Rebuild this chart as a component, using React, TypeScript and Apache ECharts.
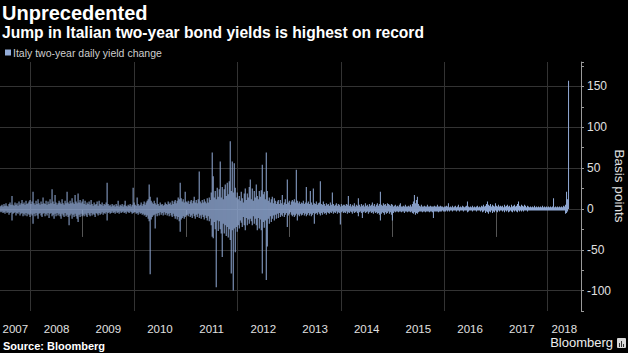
import React, { useEffect, useRef } from "react";
import * as echarts from "echarts";

// Weekly-ish envelope of Italy two-year daily yield changes (basis points),
// read off the reference: highest rise (hi) and deepest fall (lo) per sample.
// Samples are evenly spaced from 2007-05-29 to 2018-05-29, in blocks by year.
const hi2007 = [3, 4, 5, 3, 6, 4, 7, 4, 3, 6, 8, 5, 16, 5, 4, 8, 5, 7, 4, 9, 5, 7, 11, 6, 8, 5, 10, 6, 7, 9, 11];
const lo2007 = [-3, -4, -3, -5, -4, -6, -3, -5, -4, -7, -5, -4, -14, -6, -5, -4, -8, -5, -6, -4, -8, -6, -5, -9, -6, -8, -5, -9, -6, -7, -10];
const hi2008 = [6, 9, 21, 7, 5, 10, 6, 12, 7, 5, 9, 6, 14, 7, 6, 10, 5, 9, 6, 12, 7, 24, 9, 6, 17, 8, 5, 7, 10, 8, 6, 12, 7, 5, 10, 7, 21, 8, 6, 10, 7, 13, 8, 6, 17, 9, 7, 19, 8, 11, 7, 9];
const lo2008 = [-6, -8, -18, -6, -9, -5, -8, -12, -6, -5, -8, -10, -6, -5, -9, -6, -8, -5, -11, -6, -5, -9, -7, -12, -6, -9, -5, -8, -6, -9, -12, -6, -8, -10, -5, -9, -7, -10, -20, -8, -6, -12, -7, -10, -6, -9, -12, -16, -7, -10, -6, -9];
const hi2009 = [12, 6, 10, 5, 8, 6, 9, 5, 11, 6, 4, 8, 5, 6, 9, 4, 10, 6, 5, 8, 4, 6, 5, 8, 32, 6, 4, 5, 3, 6, 4, 5, 3, 6, 4, 10, 3, 5, 4, 6, 3, 5, 10, 4, 3, 5, 4, 6, 3, 5, 26, 8];
const lo2009 = [-7, -9, -6, -8, -10, -5, -7, -9, -5, -8, -6, -7, -10, -5, -6, -8, -5, -7, -6, -4, -7, -5, -6, -4, -14, -5, -4, -6, -5, -3, -5, -4, -6, -3, -5, -4, -6, -3, -5, -4, -3, -5, -4, -6, -3, -4, -5, -3, -4, -6, -5, -4];
const hi2010 = [5, 4, 14, 6, 4, 5, 8, 4, 6, 9, 5, 8, 10, 12, 30, 15, 10, 8, 6, 10, 7, 5, 14, 6, 4, 8, 5, 6, 4, 5, 8, 6, 5, 9, 6, 8, 5, 10, 6, 9, 11, 7, 10, 14, 12, 32, 13, 9, 12, 8, 21, 9];
const lo2010 = [-4, -6, -5, -7, -4, -6, -5, -7, -6, -8, -7, -10, -8, -12, -15, -80, -13, -10, -8, -7, -24, -6, -9, -5, -8, -4, -7, -5, -8, -4, -7, -5, -8, -6, -9, -5, -8, -10, -6, -9, -12, -9, -13, -10, -15, -28, -13, -11, -9, -12, -10, -8];
const hi2011 = [8, 10, 6, 9, 11, 7, 10, 15, 8, 11, 7, 12, 46, 9, 7, 11, 8, 12, 9, 7, 13, 8, 14, 11, 20, 69, 40, 14, 22, 12, 26, 15, 24, 58, 14, 27, 12, 24, 30, 16, 32, 18, 34, 83, 22, 58, 20, 56, 26, 14, 20, 12];
const lo2011 = [-7, -9, -6, -10, -8, -11, -6, -9, -12, -7, -10, -6, -11, -8, -12, -7, -10, -13, -8, -11, -14, -9, -15, -12, -20, -34, -36, -16, -25, -96, -14, -27, -15, -25, -30, -59, -18, -30, -20, -33, -22, -35, -25, -38, -79, -26, -100, -24, -53, -22, -28, -20];
const hi2012 = [16, 10, 21, 13, 8, 19, 25, 11, 19, 14, 27, 36, 12, 25, 10, 22, 14, 30, 16, 12, 22, 15, 23, 54, 18, 21, 12, 69, 22, 10, 14, 8, 12, 15, 7, 13, 10, 6, 9, 11, 6, 11, 7, 17, 5, 8, 12, 6, 36, 8, 10, 5, 9];
const lo2012 = [-24, -14, -17, -22, -10, -20, -26, -11, -20, -13, -18, -12, -15, -20, -9, -18, -12, -20, -26, -11, -24, -13, -26, -79, -16, -23, -14, -87, -46, -12, -18, -9, -16, -12, -8, -14, -7, -12, -6, -11, -5, -10, -7, -9, -5, -10, -7, -5, -22, -8, -6, -4, -7];
const hi2013 = [11, 9, 12, 8, 48, 10, 7, 9, 6, 8, 7, 10, 6, 8, 27, 7, 9, 6, 22, 8, 5, 25, 7, 6, 9, 5, 7, 8, 34, 6, 5, 9, 6, 4, 7, 5, 6, 4, 8, 5, 20, 6, 4, 5, 7, 4, 6, 5, 3, 6, 4, 5];
const lo2013 = [-9, -7, -10, -8, -6, -14, -7, -9, -6, -8, -7, -5, -8, -6, -9, -7, -5, -8, -6, -9, -7, -5, -18, -6, -5, -7, -4, -6, -8, -5, -7, -4, -6, -5, -7, -4, -5, -6, -4, -5, -3, -6, -4, -5, -3, -6, -4, -5, -19, -4, -3, -5];
const hi2014 = [5, 4, 6, 5, 16, 4, 6, 3, 5, 4, 7, 3, 5, 4, 13, 5, 3, 6, 4, 5, 3, 7, 4, 5, 3, 6, 4, 5, 8, 4, 6, 3, 5, 7, 4, 6, 21, 5, 4, 7, 5, 6, 4, 7, 6, 5, 4, 6, 5, 3, 4, 5];
const lo2014 = [-4, -5, -3, -6, -4, -5, -3, -4, -6, -3, -5, -4, -3, -5, -9, -4, -3, -5, -11, -4, -3, -5, -4, -3, -6, -4, -3, -5, -4, -6, -3, -5, -4, -6, -5, -7, -14, -6, -4, -5, -7, -4, -6, -5, -3, -6, -4, -7, -14, -5, -3, -4];
const hi2015 = [3, 4, 3, 5, 7, 3, 3, 4, 3, 5, 3, 3, 4, 3, 5, 3, 6, 9, 17, 7, 11, 15, 6, 4, 3, 5, 3, 3, 4, 3, 3, 5, 3, 3, 4, 3, 3, 3, 4, 3, 3, 5, 3, 3, 4, 3, 3, 2, 3, 3, 4, 3];
const lo2015 = [-3, -3, -4, -3, -3, -4, -3, -3, -5, -3, -3, -4, -3, -3, -4, -3, -5, -6, -4, -7, -5, -6, -4, -3, -3, -3, -4, -3, -3, -4, -3, -3, -3, -4, -3, -3, -4, -11, -3, -3, -3, -3, -4, -3, -3, -3, -2, -3, -3, -3, -2, -3];
const hi2016 = [7, 2, 3, 2, 4, 2, 3, 4, 2, 3, 5, 2, 3, 2, 4, 3, 2, 3, 4, 9, 3, 2, 3, 2, 4, 2, 3, 2, 3, 4, 2, 3, 2, 4, 3, 5, 3, 4, 6, 9, 5, 4, 6, 3, 5, 4, 3, 7, 4, 3, 5, 3, 4];
const lo2016 = [-2, -3, -2, -2, -3, -2, -2, -2, -3, -2, -2, -3, -2, -2, -2, -3, -2, -2, -2, -4, -3, -2, -2, -2, -3, -2, -2, -2, -3, -2, -2, -2, -3, -2, -4, -3, -2, -5, -3, -4, -6, -3, -4, -2, -5, -3, -4, -2, -3, -4, -2, -3, -2];
const hi2017 = [3, 4, 2, 5, 3, 4, 5, 3, 4, 2, 5, 3, 4, 5, 3, 4, 6, 9, 4, 3, 5, 4, 3, 5, 4, 2, 4, 3, 2, 3, 2, 3, 2, 4, 2, 3, 2, 3, 2, 3, 2, 4, 2, 3, 2, 3, 2, 3, 2, 3, 2, 3];
const lo2017 = [-2, -3, -2, -4, -2, -3, -2, -4, -3, -2, -3, -4, -2, -3, -2, -3, -4, -2, -3, -2, -3, -2, -3, -2, -2, -2, -3, -2, -2, -2, -2, -2, -2, -2, -2, -2, -2, -2, -2, -2, -2, -2, -2, -2, -2, -2, -2, -2, -2, -2, -2, -2];
const hi2018 = [13, 2, 3, 2, 3, 2, 3, 2, 3, 2, 4, 3, 5, 21, 12, 157];
const lo2018 = [-2, -2, -2, -2, -2, -2, -2, -2, -2, -2, -2, -2, -6, -5, -3, 0];

const YEARS = [2007, 2008, 2009, 2010, 2011, 2012, 2013, 2014, 2015, 2016, 2017, 2018];
const GRID_YEARS = [2008, 2010, 2012, 2014, 2016, 2018];
const Y_GRID = [-100, -50, 0, 50, 100, 150];

const NAME = "Italy two-year daily yield change";
const Y_NAME = "Basis points";
const START = Date.UTC(2007, 4, 29);
const END = Date.UTC(2018, 4, 29);
const X_MIN = START;
const X_MAX = Date.UTC(2018, 7, 25);

const FONT = "'Liberation Sans', Arial, sans-serif";
const BAR = "#93acd8";

export default function App() {
  const ref = useRef<HTMLDivElement>(null);

  useEffect(() => {
    if (!ref.current) return;
    const chart = echarts.init(ref.current, undefined, { renderer: "svg" });

    const hi = [...hi2007, ...hi2008, ...hi2009, ...hi2010, ...hi2011, ...hi2012, ...hi2013, ...hi2014, ...hi2015, ...hi2016, ...hi2017, ...hi2018];
    const lo = [...lo2007, ...lo2008, ...lo2009, ...lo2010, ...lo2011, ...lo2012, ...lo2013, ...lo2014, ...lo2015, ...lo2016, ...lo2017, ...lo2018];
    const step = (END - START) / (hi.length - 1);
    const hiData = hi.map((v, i) => [START + i * step, v]);
    const loData = lo.map((v, i) => [START + i * step, v]);

    const boundaries = YEARS.slice(1).map((y) => Date.UTC(y, 0, 1));
    const labelPos = YEARS.map((y) => {
      const a = Math.max(Date.UTC(y, 0, 1), X_MIN);
      const b = Math.min(Date.UTC(y + 1, 0, 1), X_MAX);
      return (a + b) / 2;
    });

    chart.setOption({
      animation: false,
      backgroundColor: "#000",
      textStyle: { fontFamily: FONT },
      title: {
        left: 2,
        top: 3,
        padding: 0,
        itemGap: 1,
        text: "Unprecedented",
        subtext: "Jump in Italian two-year bond yields is highest on record",
        textStyle: { color: "#fff", fontSize: 20, fontWeight: "bold", fontFamily: FONT },
        subtextStyle: { color: "#fff", fontSize: 15.6, fontWeight: "bold", fontFamily: FONT },
      },
      legend: {
        data: [NAME],
        left: 5,
        top: 47,
        padding: 0,
        icon: "rect",
        itemWidth: 6,
        itemHeight: 6,
        selectedMode: false,
        textStyle: { color: "#cfcfcf", fontSize: 10.5, fontFamily: FONT, padding: [0, 0, 0, -3] },
      },
      grid: { left: 0, right: 47, top: 62, bottom: 42, containLabel: false, outerBoundsMode: "none" },
      xAxis: {
        type: "value",
        min: X_MIN,
        max: X_MAX,
        axisLine: { show: true, lineStyle: { color: "#9a9a9a", width: 1 } },
        axisTick: { show: true, customValues: boundaries, length: 28, lineStyle: { color: "#555" } },
        axisLabel: {
          customValues: labelPos,
          color: "#e0e0e0",
          fontSize: 11.5,
          margin: 12,
          formatter: (v: number) => String(new Date(v).getUTCFullYear()),
        },
        splitLine: { show: false },
      },
      yAxis: {
        type: "value",
        position: "right",
        min: -125,
        max: 180,
        interval: 25,
        splitLine: { show: false },
        axisLine: { show: true, lineStyle: { color: "#9a9a9a" } },
        axisTick: { show: true, length: 3, lineStyle: { color: "#9a9a9a" } },
        axisLabel: {
          color: "#e0e0e0",
          fontSize: 12,
          margin: 6,
          formatter: (v: number) => (v % 50 === 0 ? String(v) : ""),
        },
      },
      series: [
        {
          type: "line",
          data: [],
          silent: true,
          markLine: {
            silent: true,
            z: 1,
            symbol: "none",
            label: { show: false },
            lineStyle: { color: "#333", type: "solid", width: 1 },
            data: [
              ...GRID_YEARS.map((y) => ({ xAxis: Date.UTC(y, 0, 1) })),
              ...Y_GRID.map((v) => ({ yAxis: v })),
            ],
          },
        },
        {
          type: "bar",
          name: NAME,
          stack: "chg",
          data: hiData,
          barWidth: 1,
          silent: true,
          z: 3,
          itemStyle: { color: BAR },
        },
        {
          type: "bar",
          name: NAME,
          stack: "chg",
          data: loData,
          barWidth: 1,
          silent: true,
          z: 3,
          itemStyle: { color: BAR },
        },
      ],
      graphic: [
        {
          type: "text",
          x: 619,
          y: 186,
          rotation: -Math.PI / 2,
          style: {
            text: Y_NAME,
            fill: "#e0e0e0",
            font: `13.5px ${FONT}`,
            align: "center",
            verticalAlign: "middle",
          },
        },
        {
          type: "text",
          left: 3,
          top: 340,
          style: { text: "Source: Bloomberg", fill: "#fff", font: `bold 11px ${FONT}` },
        },
        {
          type: "text",
          right: 15,
          top: 336,
          style: { text: "Bloomberg", fill: "#eee", font: `13px ${FONT}` },
        },
        {
          type: "group",
          right: 2,
          top: 338,
          children: [
            { type: "rect", shape: { x: 0, y: 0, width: 9, height: 10, r: 1 }, style: { fill: "#d8d8d8" } },
            { type: "rect", shape: { x: 2, y: 5, width: 1, height: 4 }, style: { fill: "#333" } },
            { type: "rect", shape: { x: 4, y: 3, width: 1, height: 6 }, style: { fill: "#333" } },
            { type: "rect", shape: { x: 6, y: 6, width: 1, height: 3 }, style: { fill: "#333" } },
          ],
        },
      ],
    });

    return () => chart.dispose();
  }, []);

  return (
    <div
      ref={ref}
      style={{ position: "absolute", left: 0, top: 0, width: 628, height: 353 }}
    />
  );
}
